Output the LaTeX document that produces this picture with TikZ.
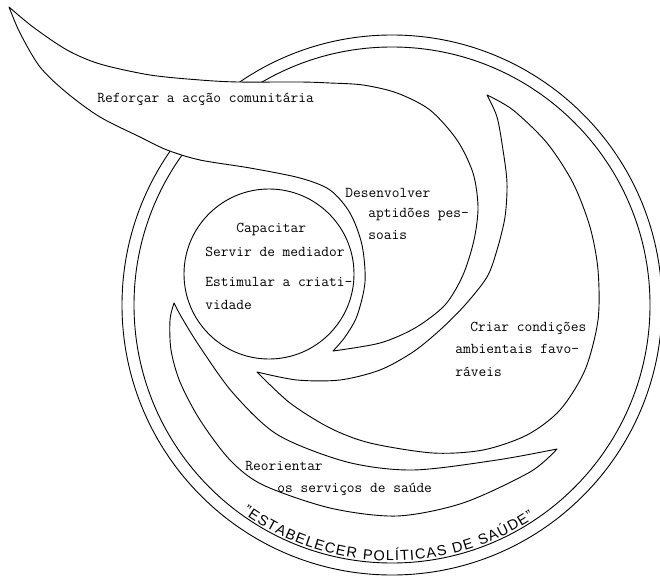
\documentclass[tikz,border=0pt]{standalone}
\usepackage{fontspec}
\setsansfont{Liberation Sans}
\usetikzlibrary{decorations.text}
\begin{document}
\begin{tikzpicture}[x=1pt,y=-1pt,line width=0.9pt,
  blade/.style={draw=black,line join=round},
  lbl/.style={font=\ttfamily\fontsize{15}{18}\selectfont,anchor=base west,inner sep=0pt}]
\useasboundingbox (0,0) rectangle (660,577);
% outer double ring
\draw (392,305) circle[radius=270pt];
\draw (392,305) circle[radius=258pt];
% Reforcar + Desenvolver spiral blade (covers ring)
\draw[blade,fill=white]
  plot[smooth] coordinates {(9,7) (33,27) (67,50) (100,64) (150,75) (200,80) (238,82) (300,82) (330,83) (363,85) (397,93) (430,110) (457,140) (473,173) (478,207) (474,240) (463,275) (445,305) (415,328) (380,343) (333,351)}
  -- plot[smooth] coordinates {(333,351) (345,337) (357,316) (365,282) (362,245) (350,213) (330,190) (300,178) (250,168) (200,160) (167,150) (140,137) (100,117) (67,93) (40,67) (20,33) (9,7)}
  -- cycle;
% central circle
\draw (269,274) circle[radius=85pt];
% Criar blade
\draw[blade]
  plot[smooth] coordinates {(487,95) (513,110) (547,143) (573,183) (590,227) (598,270) (598,320) (585,370) (560,410) (527,435) (483,450) (433,453) (370,443) (330,428) (290,403) (257,372)}
  -- plot[smooth] coordinates {(257,372) (297,380) (340,380) (380,370) (413,352) (440,330) (465,305) (487,277) (497,250) (505,217) (507,183) (503,150) (497,117) (487,95)}
  -- cycle;
% Reorientar blade
\draw[blade]
  plot[smooth] coordinates {(174,303) (182,318) (200,347) (233,393) (278,435) (347,462) (413,470) (497,460) (557,449)}
  -- plot[smooth] coordinates {(557,449) (530,472) (463,503) (397,516) (330,508) (263,485) (230,460) (200,420) (180,382) (171,350) (170,320) (174,303)}
  -- cycle;
% labels
\node[lbl] (ref) at (97,103) {Reforçar a acção comunitária};
\node[lbl] (des1) at (345,197) {Desenvolver};
\node[lbl] (des2) at (368,218) {aptidões pes-};
\node[lbl] (des3) at (368,239) {soais};
\node[lbl] (cap1) at (236,233) {Capacitar};
\node[lbl] (cap2) at (205,256) {Servir de mediador};
\node[lbl] (cap3) at (205,286) {Estimular a criati-};
\node[lbl] (cap4) at (205,309) {vidade};
\node[lbl] (cri1) at (470,331) {Criar condições};
\node[lbl] (cri2) at (455,353) {ambientais favo-};
\node[lbl] (cri3) at (455,376) {ráveis};
\node[lbl] (reo1) at (245,470) {Reorientar};
\node[lbl] (reo2) at (277,492) {os serviços de saúde};
% curved title
\path[decorate,decoration={text effects along path,
  text={"ESTABELECER POLÍTICAS DE SAÚDE"},text align=center,
  text effects/.cd,
    text along path,
    characters={font=\sffamily\fontsize{14.5}{15}\selectfont,inner sep=0pt},
    character widths={font=\sffamily\fontsize{14.5}{15}\selectfont,inner sep=0pt,inner xsep=0.6pt}}]
  ([shift={(392pt,-305pt)}]-133:256pt) arc[start angle=-133,end angle=-49,radius=256pt];
\end{tikzpicture}
\end{document}
